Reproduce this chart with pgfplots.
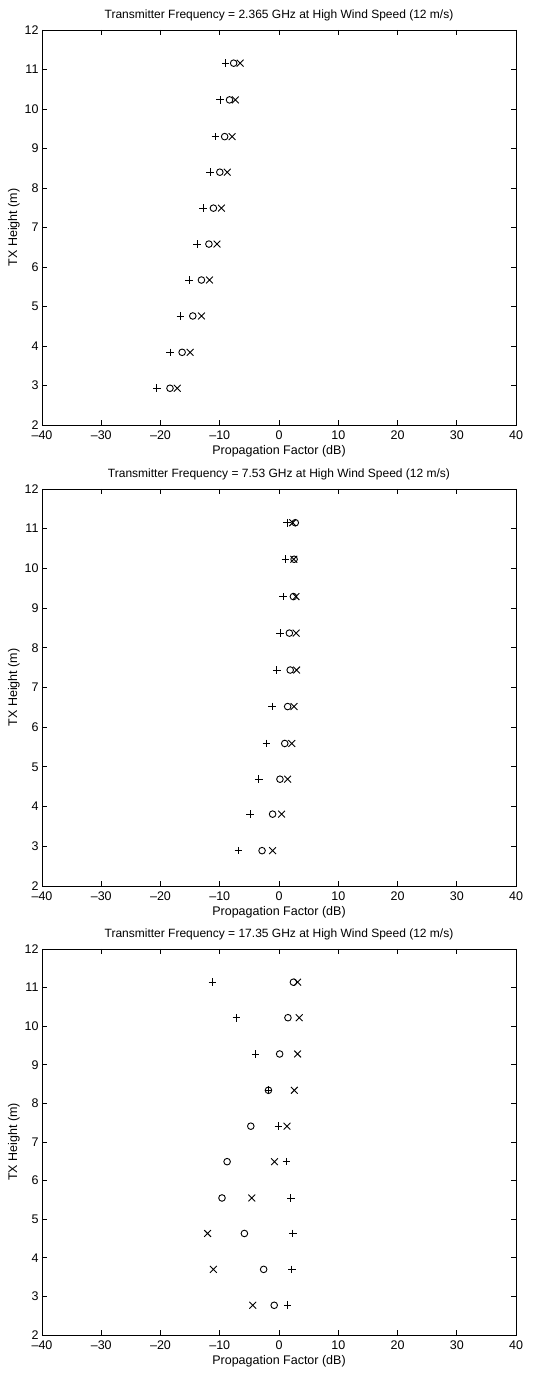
\documentclass[border=0pt]{standalone}
\usepackage{fontspec}
\setmainfont{Liberation Sans}
\usepackage{pgfplots}
\usepackage{pgfplotstable}
\pgfplotsset{compat=1.18}

% Propagation factor (dB) against transmitter height (m), high wind speed
% columns: h = TX height, plus / circ / cross = the three marker series
\pgfplotstableread{
h      plus    circ    cross
11.16  -9.00   -7.65   -6.56
10.23  -9.93   -8.35   -7.37
9.30   -10.75  -9.17   -7.92
8.40   -11.62  -9.99   -8.73
7.49   -12.81  -11.07  -9.71
6.58   -13.79  -11.83  -10.47
5.67   -15.15  -13.09  -11.73
4.76   -16.62  -14.55  -13.09
3.84   -18.40  -16.35  -15.00
2.93   -20.60  -18.40  -17.17
}\lowfreq

\pgfplotstableread{
h      plus    circ    cross
11.15  1.40    2.75    2.30
10.23  1.08    2.55    2.50
9.29   0.70    2.43    2.86
8.37   0.16    1.75    2.90
7.44   -0.38   1.89    2.97
6.52   -1.19   1.46    2.54
5.59   -2.11   0.97    2.16
4.69   -3.41   0.16    1.46
3.81   -4.86   -1.08   0.43
2.89   -6.86   -2.86   -1.08
}\midfreq

\pgfplotstableread{
h      plus    circ    cross
11.14  -11.24  2.43    3.14
10.22  -7.19   1.51    3.41
9.28   -3.95   0.11    3.14
8.34   -1.78   -1.78   2.59
7.41   -0.11   -4.76   1.35
6.49   1.24    -8.76   -0.76
5.55   2.00    -9.62   -4.59
4.63   2.32    -5.84   -12.05
3.70   2.16    -2.59   -11.08
2.77   1.46    -0.81   -4.43
}\highfreq

\pgfplotsset{
  panel/.style={
    scale only axis,
    width=474pt,
    xmin=-40, xmax=40, ymin=2, ymax=12,
    xtick={-40,-30,...,40},
    xticklabels={–40,–30,–20,–10,0,10,20,30,40},
    ytick={2,3,...,12},
    tick align=inside,
    major tick length=5pt,
    axis line style={line width=0.8pt},
    every tick/.style={black, line width=0.8pt},
    /pgf/number format/assume math mode=true,
    tick label style={font=\fontsize{12.5}{14}\selectfont},
    xticklabel style={yshift=-2.5pt},
    label style={font=\fontsize{12.5}{14}\selectfont},
    title style={font=\fontsize{12}{14}\selectfont, yshift=-1pt},
    xlabel={Propagation Factor (dB)},
    ylabel={TX Height (m)},
    xlabel style={yshift=1pt},
    ylabel style={yshift=-2pt},
    anchor=south west,
  },
  pmark/.style={only marks, mark=+, mark size=3.8pt, black, line width=0.9pt},
  omark/.style={only marks, mark=o, mark size=3.3pt, black, line width=0.9pt},
  xmark/.style={only marks, mark=x, mark size=4.8pt, black, line width=0.9pt},
}

\begin{document}
\begin{tikzpicture}
\path[use as bounding box] (0,0) rectangle (541pt,1375pt);

\begin{axis}[panel, at={(42pt,950pt)}, height=395pt,
  title={Transmitter Frequency = 2.365 GHz at High Wind Speed (12 m/s)}]
  \addplot[pmark] table[x=plus, y=h] {\lowfreq};
  \addplot[omark] table[x=circ, y=h] {\lowfreq};
  \addplot[xmark] table[x=cross, y=h] {\lowfreq};
\end{axis}

\begin{axis}[panel, at={(42pt,489pt)}, height=397pt,
  title={Transmitter Frequency = 7.53 GHz at High Wind Speed (12 m/s)}]
  \addplot[pmark] table[x=plus, y=h] {\midfreq};
  \addplot[omark] table[x=circ, y=h] {\midfreq};
  \addplot[xmark] table[x=cross, y=h] {\midfreq};
\end{axis}

\begin{axis}[panel, at={(42pt,40pt)}, height=386pt,
  title={Transmitter Frequency = 17.35 GHz at High Wind Speed (12 m/s)}]
  \addplot[pmark] table[x=plus, y=h] {\highfreq};
  \addplot[omark] table[x=circ, y=h] {\highfreq};
  \addplot[xmark] table[x=cross, y=h] {\highfreq};
\end{axis}
\end{tikzpicture}
\end{document}
